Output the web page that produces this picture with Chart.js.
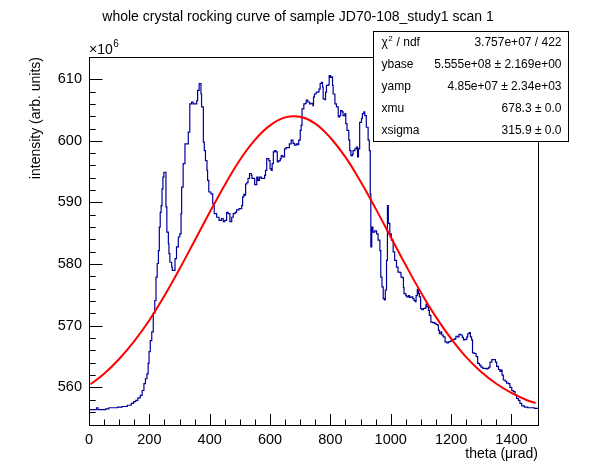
<!DOCTYPE html>
<html>
<head>
<meta charset="utf-8">
<script src="https://cdn.jsdelivr.net/npm/chart.js@4.4.1/dist/chart.umd.min.js"></script>
<style>
html,body{margin:0;padding:0;background:#fff;}
#wrap{width:598px;height:474px;position:relative;}
</style>
</head>
<body>
<div id="wrap"><canvas id="c" width="598" height="474"></canvas></div>
<script>
// ---- data (intensity in units of 10^6) ----
const theta = [0,10,22,25,30,45,55,66,80,95,110,127,140,148,155,162,170,176,182,187,192,196,199,203,208,213,218,222,226,230,233,236,239,242,245,248,
251,255,258,263,265,268,274,276,283,285,290,296,301,305,307,312,318,329,334,340,345,351,357,360,365,368,371,373,379,382,386,391,393,397,404,410,415,423,431,439,445,450,456,461,467,473,478,484,489,497,506,509,513,
516,519,523,527,532,538,540,545,549,554,556,560,565,571,576,582,585,589,596,600,604,607,611,615,620,624,629,634,637,642,648,653,659,664,670,676,681,687,692,695,700,703,706,712,717,720,725,731,736,742,744,747,753,758,762,766,
770,774,776,782,784,787,793,796,800,804,807,809,815,820,826,831,834,839,842,848,851,855,861,864,868,873,875,881,886,890,893,897,903,906,911,914,919,925,929,932,934,937,941,947,953,958,964,967,971,975,979,982,986,989,992,997,1002,1008,1013,1019,1024,
1031,1034,1039,1042,1044,1050,1053,1059,1062,1067,1073,1077,1081,1084,1088,1092,1095,1099,1103,1108,1114,1117,1119,1125,1128,1133,1139,1145,1150,1155,1158,1161,1166,1169,1174,1180,1186,1191,1197,1202,1208,1213,1216,1222,1226,1232,1237,1241,1246,1252,1255,
1260,1264,1268,1271,1277,1283,1288,1294,1299,1305,1310,1316,1321,1325,1329,1335,1341,1347,1351,1357,1362,1365,1369,1373,1379,1384,1390,1395,1401,1406,1412,1417,1423,1428,1434,1443,1454,1465,1476,1488];
const intensity = [556.4,556.4,556.4,556.7,556.4,556.4,556.5,556.7,556.7,556.8,556.9,557.1,557.4,557.7,557.9,558.3,558.7,559.5,560.6,561.4,562.2,563.9,565.8,567.6,569.0,572.0,574.1,577.9,580.1,582.2,586.0,588.4,589.5,592.2,594.1,594.9,
594.9,589.3,585.2,583.3,581.7,580.3,579.5,579.0,579.0,580.9,582.8,584.4,584.9,588.2,592.5,596.3,599.5,601.4,606.0,606.3,606.0,606.0,606.5,608.2,609.3,609.3,607.6,605.5,599.8,598.4,596.8,595.2,593.6,591.7,591.4,589.8,588.2,587.6,587.1,587.4,586.9,587.1,588.4,588.2,586.9,587.6,588.2,588.4,588.8,589.0,589.5,590.9,591.3,
591.2,593.0,593.2,593.9,594.7,594.4,593.9,593.9,592.9,592.9,594.1,593.6,594.1,593.9,593.9,594.4,595.2,597.1,596.8,595.5,595.2,596.3,598.2,598.4,598.2,596.6,596.8,597.1,597.6,597.4,598.7,598.9,598.9,599.5,600.1,599.6,599.3,599.5,599.4,600.1,601.7,602.5,605.2,606.0,606.1,606.6,606.3,606.0,606.1,605.7,607.1,607.6,607.9,607.9,608.4,609.3,
609.5,608.7,606.8,606.7,607.9,609.0,609.1,610.6,610.3,610.4,609.0,607.6,606.0,605.5,603.9,604.1,604.9,604.7,604.1,604.4,602.8,601.7,600.1,598.4,597.6,597.8,598.4,598.7,599.0,597.4,598.7,603.0,603.6,604.4,604.7,604.1,602.2,600.1,598.4,591.4,582.8,586.0,585.2,585.4,584.9,583.9,582.2,577.9,576.3,574.4,574.2,575.8,580.6,589.5,586.6,584.9,583.9,582.0,580.6,579.5,578.7,
578.6,577.9,577.8,576.2,575.2,574.9,574.7,574.9,574.6,574.7,574.4,574.1,573.9,574.9,575.9,575.2,574.7,572.8,572.6,572.8,572.9,573.5,573.1,572.5,571.7,570.6,570.5,570.4,570.2,570.1,569.3,568.7,569.0,568.5,568.2,567.4,567.2,567.4,567.5,567.7,567.8,567.9,568.3,568.2,568.6,568.5,568.1,567.7,567.8,568.2,568.7,
568.9,568.2,567.7,565.6,565.5,565.0,563.9,563.6,563.3,563.1,563.1,563.0,563.1,563.3,564.1,564.5,564.5,564.1,563.4,562.9,562.6,562.8,562.0,561.2,561.0,560.7,560.6,560.0,559.5,559.3,558.8,558.2,557.9,557.4,557.0,556.8,556.7,556.7,556.6,556.5];
const fitTheta = [5,50,100,150,200,250,300,350,400,450,500,550,600,650,700,750,800,850,900,950,1000,1050,1100,1150,1200,1250,1300,1350,1400,1450,1480];
const fitValue = [560.5,562.2,564.6,567.5,570.9,574.85,579.2,583.8,588.4,592.85,596.9,600.15,602.5,603.8,603.9,602.8,600.5,597.35,593.4,589.0,584.4,579.8,575.4,571.4,567.9,564.9,562.5,560.6,559.1,557.95,557.45];
const statNames = ['ndf','ybase','yamp','xmu','xsigma'];
const statValues = ['3.757e+07 / 422','5.555e+08 \u00b1 2.169e+00','4.85e+07 \u00b1 2.34e+03','678.3 \u00b1 0.0','315.9 \u00b1 0.0'];
const titleText = 'whole crystal rocking curve of sample JD70-108_study1 scan 1';
const xTitle = 'theta (\u03bcrad)';
const yTitle = 'intensity (arb. units)';
const xMin = 0, xMax = 1488, yMin = 553.9, yMax = 613.6;
const xMinorStep = 50, xLabelStep = 200, yMinorStep = 2, yLabelStep = 10;

const FONT = "'Liberation Sans', Arial, Helvetica, sans-serif";
Chart.defaults.font.family = FONT;
Chart.defaults.color = '#000';

function isMult(v, s){ return Math.abs(v/s - Math.round(v/s)) < 1e-6; }

const rootPlugin = {
  id: 'rootStyle',
  afterDraw(chart){
    const ctx = chart.ctx, a = chart.chartArea;
    const xs = chart.scales.x, ys = chart.scales.y;
    ctx.save();
    // frame
    ctx.strokeStyle = '#000'; ctx.lineWidth = 1;
    ctx.strokeRect(Math.round(a.left)+0.5, Math.round(a.top)+0.5, Math.round(a.right-a.left), Math.round(a.bottom-a.top));
    // ticks (inward)
    ctx.beginPath();
    xs.ticks.forEach(t => {
      if(!isMult(t.value, xMinorStep)) return;
      const px = Math.round(xs.getPixelForValue(t.value)) + 0.5;
      const len = isMult(t.value, xLabelStep) ? 11 : 5.5;
      ctx.moveTo(px, a.bottom); ctx.lineTo(px, a.bottom - len);
    });
    ys.ticks.forEach(t => {
      if(!isMult(t.value, yMinorStep)) return;
      const py = Math.round(ys.getPixelForValue(t.value)) + 0.5;
      const len = isMult(t.value, yLabelStep) ? 13.5 : 6.7;
      ctx.moveTo(a.left, py); ctx.lineTo(a.left + len, py);
    });
    ctx.stroke();
    // title
    ctx.fillStyle = '#000';
    ctx.font = '14px ' + FONT;
    ctx.textAlign = 'center'; ctx.textBaseline = 'alphabetic';
    ctx.fillText(titleText, 298, 21);
    // x10^6
    ctx.textAlign = 'left';
    ctx.font = '14px ' + FONT;
    ctx.fillText('\u00d710', a.left, 54);
    const w10 = ctx.measureText('\u00d710').width;
    ctx.font = '10px ' + FONT;
    ctx.fillText('6', a.left + w10 + 0.5, 47);
    // axis titles
    ctx.font = '14px ' + FONT;
    ctx.textAlign = 'right';
    ctx.fillText(xTitle, a.right, 458);
    ctx.save();
    ctx.translate(40, a.top);
    ctx.rotate(-Math.PI/2);
    ctx.textAlign = 'right';
    ctx.fillText(yTitle, 0, 0);
    ctx.restore();
    // stats box
    const bx = 373.5, by = 31.5, bw = 195, bh = 110;
    ctx.fillStyle = '#fff';
    ctx.fillRect(bx, by, bw, bh);
    ctx.strokeStyle = '#000';
    ctx.strokeRect(bx, by, bw, bh);
    ctx.fillStyle = '#000';
    ctx.font = '12px ' + FONT;
    ctx.textBaseline = 'middle';
    const rowH = bh / statNames.length;
    statNames.forEach((n, i) => {
      const cy = by + rowH * (i + 0.5);
      ctx.textAlign = 'left';
      if(i === 0){
        ctx.fillText('\u03c7', bx + 8, cy);
        const wc = ctx.measureText('\u03c7').width;
        ctx.font = '8px ' + FONT;
        ctx.fillText('2', bx + 8 + wc + 0.5, cy - 4);
        const w2 = ctx.measureText('2').width;
        ctx.font = '12px ' + FONT;
        ctx.fillText(' / ' + n, bx + 8 + wc + w2 + 1, cy);
      } else {
        ctx.fillText(n, bx + 8, cy);
      }
      ctx.textAlign = 'right';
      ctx.fillText(statValues[i], bx + bw - 7, cy);
    });
    ctx.restore();
  }
};

new Chart(document.getElementById('c'), {
  type: 'line',
  data: {
    datasets: [
      {
        label: 'fit',
        data: fitTheta.map((x, i) => ({x, y: fitValue[i]})),
        borderColor: '#ff0000',
        borderWidth: 2,
        pointRadius: 0,
        tension: 0.4,
        fill: false,
        order: 0
      },
      {
        label: 'data',
        data: theta.map((x, i) => ({x, y: intensity[i]})),
        borderColor: '#000099',
        borderWidth: 1.2,
        pointRadius: 0,
        stepped: 'before',
        fill: false,
        order: 1
      }
    ]
  },
  options: {
    responsive: false,
    animation: false,
    devicePixelRatio: 1,
    layout: { padding: { top: 57, right: 60, left: 0, bottom: 0 } },
    plugins: { legend: { display: false }, tooltip: { enabled: false }, title: { display: false } },
    scales: {
      x: {
        type: 'linear', min: xMin, max: xMax,
        grid: { display: false, drawTicks: false },
        border: { display: false },
        ticks: {
          stepSize: xMinorStep, autoSkip: false, maxRotation: 0, padding: 6,
          font: { size: 14.5 }, color: '#000',
          callback: v => isMult(v, xLabelStep) ? String(Math.round(v)) : ''
        },
        afterFit: s => { s.height = 474 - 425; }
      },
      y: {
        type: 'linear', min: yMin, max: yMax,
        grid: { display: false, drawTicks: false },
        border: { display: false },
        ticks: {
          stepSize: yMinorStep, autoSkip: false, padding: 7,
          font: { size: 14.5 }, color: '#000',
          callback: v => isMult(v, yLabelStep) ? String(Math.round(v)) : ''
        },
        afterFit: s => { s.width = 89; }
      }
    }
  },
  plugins: [rootPlugin]
});
</script>
</body>
</html>
